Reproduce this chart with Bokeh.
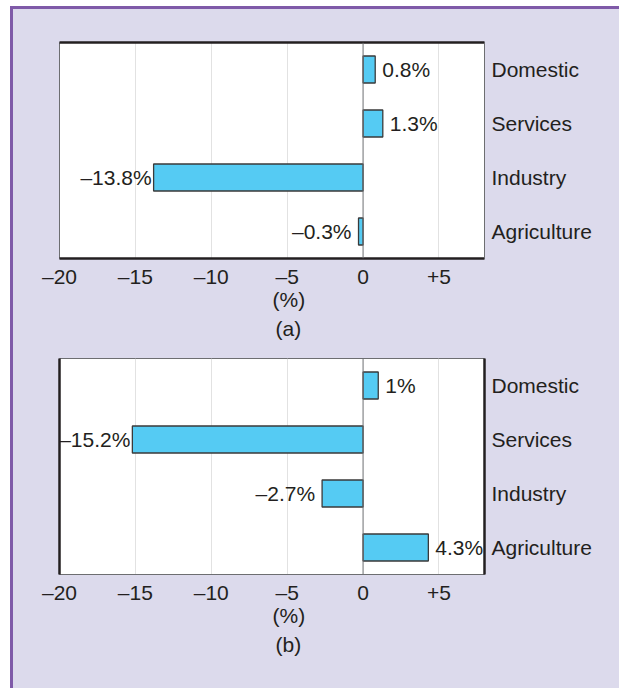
from bokeh.plotting import figure
from bokeh.models import (Range1d, FactorRange, FixedTicker, LinearAxis,
                          Span, Title, ColumnDataSource)
from bokeh.layouts import column
from bokeh.embed import file_html
from bokeh.resources import INLINE
from bokeh.core.properties import value

# ---- data ----
categories = ["Agriculture", "Industry", "Services", "Domestic"]
values_a = [-0.3, -13.8, 1.3, 0.8]
values_b = [4.3, -2.7, -15.2, 1.0]
labels_a = ["–0.3%", "–13.8%", "1.3%", "0.8%"]
labels_b = ["4.3%", "–2.7%", "–15.2%", "1%"]
x_ticks = [-20, -15, -10, -5, 0, 5]
x_tick_labels = ["–20", "–15", "–10", "–5", "0", "+5"]
grid_ticks = [-15, -10, -5, 5]
panel_names = ["(a)", "(b)"]
axis_unit = "(%)"

# ---- style ----
FONT = "Liberation Sans"
FS = "21px"
TXT = "#231f20"
LAV = "#dcdaec"
PURPLE = "#7f5aa8"
BAR = "#55cbf3"
BAR_LINE = "#3a3a3a"
GREY = "#6d6e71"
THICK = 2.5


def make_panel(vals, labs, name, variant, height, min_top, min_bottom):
    p = figure(width=606, height=height,
               y_range=FactorRange(factors=categories, range_padding=0),
               x_range=Range1d(-20, 8),
               y_axis_location="right",
               output_backend="svg", toolbar_location=None,
               min_border_left=46, min_border_right=135,
               min_border_top=min_top, min_border_bottom=min_bottom)
    p.background_fill_color = "white"
    p.border_fill_color = LAV
    p.outline_line_color = GREY
    p.outline_line_width = 1

    p.xgrid.ticker = FixedTicker(ticks=grid_ticks)
    p.xgrid.grid_line_color = "#e2e2e2"
    p.xgrid.grid_line_width = 1
    p.ygrid.visible = False

    xa = p.xaxis[0]
    xa.ticker = FixedTicker(ticks=x_ticks)
    xa.major_label_overrides = dict(zip(x_ticks, x_tick_labels))
    xa.major_tick_line_color = None
    xa.minor_tick_line_color = None
    xa.major_tick_out = 0
    xa.major_label_standoff = 6
    xa.axis_label_standoff = 0
    xa.major_label_text_font = FONT
    xa.major_label_text_font_size = FS
    xa.major_label_text_color = TXT

    ya = p.yaxis[0]
    ya.major_tick_line_color = None
    ya.major_tick_out = 0
    ya.major_label_standoff = 7
    ya.major_label_text_font = FONT
    ya.major_label_text_font_size = FS
    ya.major_label_text_color = TXT

    if variant == "a":
        xa.axis_line_color = TXT
        xa.axis_line_width = THICK
        ya.axis_line_color = GREY
        ya.axis_line_width = 1
        top = LinearAxis(ticker=FixedTicker(ticks=[]),
                         major_label_text_font_size="0px",
                         major_tick_out=0, minor_tick_out=0,
                         axis_line_color=TXT, axis_line_width=THICK)
        p.add_layout(top, "above")
    else:
        xa.axis_line_color = GREY
        xa.axis_line_width = 1
        ya.axis_line_color = TXT
        ya.axis_line_width = THICK
        left = LinearAxis(ticker=FixedTicker(ticks=[]),
                          major_label_text_font_size="0px",
                          major_tick_out=0, minor_tick_out=0,
                          axis_line_color=TXT, axis_line_width=THICK)
        p.add_layout(left, "left")

    src = ColumnDataSource(dict(
        cat=categories, val=vals, lab=labs,
        off=[(-2 if v < -10 else -7) if v < 0 else 7 for v in vals],
        align=["right" if v < 0 else "left" for v in vals],
    ))
    p.hbar(y="cat", left=0, right="val", height=0.5, source=src,
           fill_color=BAR, line_color=BAR_LINE, line_width=1.3)
    p.add_layout(Span(location=0, dimension="height", line_color=GREY,
                      line_width=1))
    p.text(x="val", y="cat", text="lab", x_offset="off", text_align="align",
           text_baseline="middle", source=src,
           text_font=value(FONT), text_font_size=value(FS),
           text_color=TXT)

    p.add_layout(Title(text=axis_unit, align="left", offset=213,
                       vertical_align="top", standoff=-6,
                       text_font=FONT, text_font_size=FS,
                       text_font_style="normal", text_color=TXT), "below")
    p.add_layout(Title(text=name, align="left", offset=216,
                       vertical_align="bottom", standoff=11,
                       text_font=FONT, text_font_size=FS,
                       text_font_style="normal", text_color=TXT), "below")
    return p


p1 = make_panel(values_a, labels_a, panel_names[0], "a", 337, 33, 88)
p2 = make_panel(values_b, labels_b, panel_names[1], "b", 342, 12, 114)

layout = column(p1, p2, spacing=0,
                styles={"background-color": LAV,
                        "margin-top": "6px",
                        "margin-left": "10px",
                        "border-top": f"3px solid {PURPLE}",
                        "border-left": f"3px solid {PURPLE}"})

open("out.html", "w").write(file_html(layout, INLINE))
